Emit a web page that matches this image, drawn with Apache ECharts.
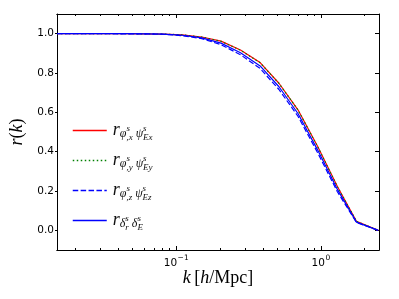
<!DOCTYPE html>
<html>
<head>
<meta charset="utf-8">
<script src="https://cdn.jsdelivr.net/npm/echarts@6/dist/echarts.min.js"></script>
<style>html,body{margin:0;padding:0;background:#fff;}#c{width:399px;height:299px;}</style>
</head>
<body>
<div id="c"></div>
<script>
// wavenumbers k [h/Mpc]
var k = [0.015, 0.0174, 0.0237, 0.032, 0.044, 0.060, 0.081, 0.110, 0.150, 0.204, 0.278, 0.380, 0.513, 0.694, 0.950, 1.30, 1.76, 2.49];
// cross-correlation coefficients
var rX = [1.000, 1.000, 1.000, 1.000, 1.000, 0.999, 0.998, 0.994, 0.983, 0.962, 0.917, 0.853, 0.748, 0.613, 0.426, 0.223, 0.046, 0.000];
var rY = [1.000, 1.000, 1.000, 1.000, 1.000, 0.999, 0.998, 0.994, 0.983, 0.961, 0.916, 0.852, 0.747, 0.612, 0.425, 0.222, 0.046, 0.000];
var rZ = [1.000, 1.000, 1.000, 1.000, 0.999, 0.999, 0.997, 0.990, 0.975, 0.944, 0.893, 0.823, 0.716, 0.580, 0.394, 0.196, 0.040, 0.000];
var rD = [1.000, 1.000, 1.000, 1.000, 1.000, 0.999, 0.998, 0.992, 0.979, 0.952, 0.903, 0.836, 0.730, 0.594, 0.408, 0.208, 0.042, 0.000];
// tick values
var xMajor = [0.1, 1];
var xMinor = [0.02, 0.03, 0.04, 0.05, 0.06, 0.07, 0.08, 0.09, 0.2, 0.3, 0.4, 0.5, 0.6, 0.7, 0.8, 0.9, 2];
var xMajorExp = ['−1', '0'];
var yTicks = [0.0, 0.2, 0.4, 0.6, 0.8, 1.0];
var seriesNames = ['phix', 'phiy', 'phiz', 'delta'];
var legendTexts = {
  phix: '{r|r}{g|φ}{sp|s}{sb|,x}{gs|ψ}{sp|s}{sb|Ex}',
  phiy: '{r|r}{g|φ}{sp|s}{sb|,y}{gs|ψ}{sp|s}{sb|Ey}',
  phiz: '{r|r}{g|φ}{sp|s}{sb|,z}{gs|ψ}{sp|s}{sb|Ez}',
  delta: '{r|r}{g|δ}{sp|s}{sb|r}{gs|δ}{sp|s}{sb|E}'
};

function pairs(ys) { return k.map(function (v, i) { return [v, ys[i]]; }); }

var serif = 'Liberation Serif';
var xMin = 0.015, xMax = 2.52;

function xAxisDef(pos, ticks, len, showLabel) {
  return {
    type: 'log', logBase: 10, min: xMin, max: xMax, position: pos,
    axisLine: { show: true, onZero: false, lineStyle: { color: '#000', width: 1 } },
    axisTick: { show: true, inside: true, length: len, customValues: ticks, lineStyle: { color: '#000', width: 1 } },
    axisLabel: showLabel ? {
      show: true, customValues: xMajor, margin: 4,
      fontFamily: 'DejaVu Sans', fontSize: 10.5, color: '#000',
      formatter: function (v) { var i = xMajor.indexOf(v); return i >= 0 ? '{b|10}{s|' + xMajorExp[i] + '}' : ''; },
      rich: {
        b: { fontFamily: 'DejaVu Sans', fontSize: 10.5, color: '#000', lineHeight: 14, padding: [4, 0, 0, 0], verticalAlign: 'middle' },
        s: { fontFamily: 'DejaVu Sans', fontSize: 7.5, color: '#000', lineHeight: 9, padding: [0, 0, 5, 0.5], verticalAlign: 'middle' }
      }
    } : { show: false },
    splitLine: { show: false }, minorTick: { show: false }
  };
}

var xAxes = [
  xAxisDef('bottom', xMajor, 4, true),
  xAxisDef('bottom', xMinor, 2, false),
  xAxisDef('top', xMajor, 4, false),
  xAxisDef('top', xMinor, 2, false)
];
xAxes[0].name = '{i|k} {n|[}{i|h}{n|/Mpc]}';
xAxes[0].nameLocation = 'middle';
xAxes[0].nameGap = 19;
xAxes[0].nameMoveOverlap = false;
xAxes[0].nameTextStyle = {
  color: '#000',
  rich: {
    i: { fontFamily: serif, fontStyle: 'italic', fontSize: 18, color: '#000' },
    n: { fontFamily: serif, fontSize: 18, color: '#000' }
  }
};

var option = {
  animation: false,
  backgroundColor: '#fff',
  grid: { left: 52, right: 20, top: 14, bottom: 49, containLabel: false },
  xAxis: xAxes,
  yAxis: [
    {
      type: 'value', min: -0.1, max: 1.1, position: 'left',
      axisLine: { show: true, onZero: false, lineStyle: { color: '#000', width: 1 } },
      axisTick: { show: true, inside: false, length: 2, customValues: yTicks, lineStyle: { color: '#000' } },
      axisLabel: { show: true, customValues: yTicks, margin: 3, fontFamily: 'DejaVu Sans', fontSize: 10.5, color: '#000',
        formatter: function (v) { return v.toFixed(1); } },
      splitLine: { show: false },
      name: '{i|r}{n|(}{i|k}{n|)}', nameLocation: 'middle', nameGap: 31,
      nameTextStyle: { color: '#000', rich: {
        i: { fontFamily: serif, fontStyle: 'italic', fontSize: 18, color: '#000' },
        n: { fontFamily: serif, fontSize: 18, color: '#000' }
      } }
    },
    {
      type: 'value', min: -0.1, max: 1.1, position: 'right',
      axisLine: { show: true, onZero: false, lineStyle: { color: '#000', width: 1 } },
      axisTick: { show: true, inside: true, length: 4, customValues: yTicks, lineStyle: { color: '#000' } },
      axisLabel: { show: false }, splitLine: { show: false }
    }
  ],
  legend: {
    orient: 'vertical', left: 67, top: 114,
    itemWidth: 34, itemHeight: 10, itemGap: 7,
    data: seriesNames,
    formatter: function (n) { return legendTexts[n]; },
    itemStyle: { opacity: 0 },
    lineStyle: { width: 1.5 },
    textStyle: {
      color: '#111', padding: [0, 0, 0, 1],
      rich: {
        r: { fontFamily: serif, fontStyle: 'italic', fontSize: 18, lineHeight: 24, color: '#111', verticalAlign: 'middle' },
        g: { fontFamily: serif, fontStyle: 'italic', fontSize: 12, lineHeight: 12, padding: [7, 0, 0, 0], color: '#111', verticalAlign: 'middle' },
        gs: { fontFamily: serif, fontStyle: 'italic', fontSize: 12, lineHeight: 12, padding: [7, 0, 0, 3], color: '#111', verticalAlign: 'middle' },
        sp: { fontFamily: serif, fontStyle: 'italic', fontSize: 9, lineHeight: 9, padding: [0, 0, 4, 0], width: 0, color: '#111', verticalAlign: 'middle' },
        sb: { fontFamily: serif, fontStyle: 'italic', fontSize: 9, lineHeight: 9, padding: [14, 0, 0, 0], color: '#111', verticalAlign: 'middle' }
      }
    }
  },
  series: [
    { name: 'phix', type: 'line', xAxisIndex: 0, yAxisIndex: 0, data: pairs(rX), symbol: 'none', smooth: false,
      lineStyle: { color: '#ff0000', width: 1.2 }, itemStyle: { color: '#ff0000' } },
    { name: 'phiy', type: 'line', xAxisIndex: 0, yAxisIndex: 0, data: pairs(rY), symbol: 'none',
      lineStyle: { color: '#008000', width: 1.2, type: [1.5, 2.5] }, itemStyle: { color: '#008000' } },
    { name: 'phiz', type: 'line', xAxisIndex: 0, yAxisIndex: 0, data: pairs(rZ), symbol: 'none',
      lineStyle: { color: '#0000ff', width: 1.2, type: [5.5, 2.4] }, itemStyle: { color: '#0000ff' } },
    { name: 'delta', type: 'line', xAxisIndex: 0, yAxisIndex: 0, data: pairs(rD), symbol: 'none',
      lineStyle: { color: '#0000ff', width: 1.2 }, itemStyle: { color: '#0000ff' } }
  ]
};

var chart = echarts.init(document.getElementById('c'), null, { renderer: 'canvas' });
chart.setOption(option);
</script>
</body>
</html>
